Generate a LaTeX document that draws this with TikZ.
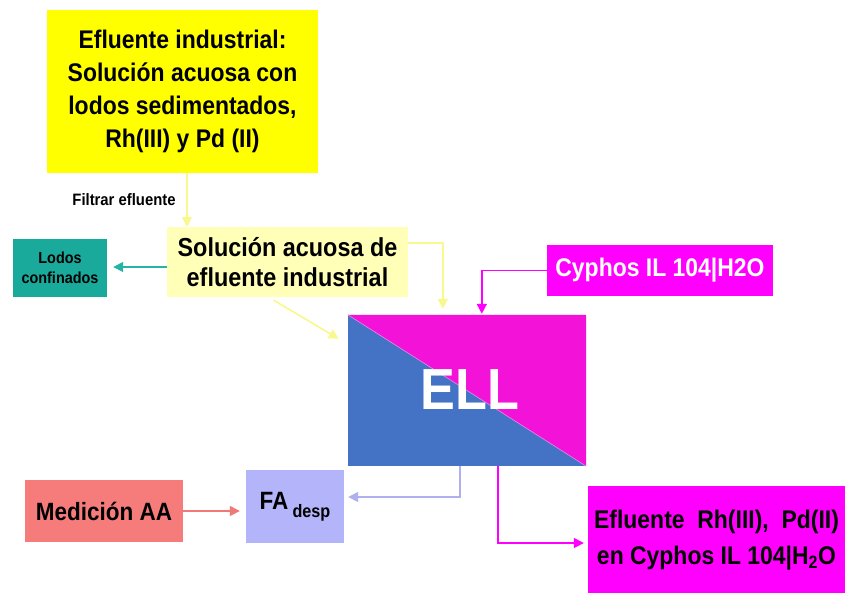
\documentclass[tikz,border=0pt]{standalone}
\usepackage{fontspec}
\setmainfont{Liberation Sans}[FakeStretch=0.9]
\usetikzlibrary{arrows.meta}
\definecolor{cyel}{RGB}{255,255,0}
\definecolor{cpale}{RGB}{255,255,184}
\definecolor{cline}{RGB}{248,248,140}
\definecolor{cteal}{RGB}{26,170,156}
\definecolor{ctealA}{RGB}{40,180,165}
\definecolor{cmag}{RGB}{255,0,255}
\definecolor{cpink}{RGB}{242,18,216}
\definecolor{cblue}{RGB}{68,114,196}
\definecolor{clav}{RGB}{180,180,250}
\definecolor{clavA}{RGB}{176,176,240}
\definecolor{csal}{RGB}{246,124,124}
\definecolor{csalA}{RGB}{240,120,120}
\tikzset{
  box/.style={inner sep=0pt, align=center, font=\bfseries},
  conn/.style={line width=1.6pt, -{Triangle[width=10pt,length=10pt]}},
}
\begin{document}
\begin{tikzpicture}[x=1pt,y=-1pt]
\useasboundingbox (0,0) rectangle (845,592);
% boxes
\node[box, fill=cyel, minimum width=271pt, minimum height=163pt,
  font=\bfseries\fontsize{25.5}{33}\selectfont] (top) at (182.5,91.5)
  {Efluente industrial:\\Solución acuosa con\\lodos sedimentados,\\Rh(III) y Pd (II)};
\node[box, font=\bfseries\fontsize{16.5}{18}\selectfont] (filt) at (124,200) {Filtrar efluente};
\node[box, fill=cpale, minimum width=241pt, minimum height=70pt,
  font=\bfseries\fontsize{26}{30}\selectfont] (sol) at (287.5,262)
  {Solución acuosa de\\efluente industrial};
\node[box, fill=cteal, minimum width=94pt, minimum height=58pt,
  font=\bfseries\fontsize{16}{20}\selectfont] (lod) at (60,268)
  {Lodos\\confinados};
\node[box, fill=cmag, text=white, minimum width=226pt, minimum height=51pt,
  font=\bfseries\fontsize{25.5}{30}\selectfont] (cyp) at (660,270.5)
  {Cyphos IL 104|H2O};
% ELL box
\node[box, minimum width=238pt, minimum height=151pt] (ell) at (467,390.5) {};
\fill[cblue] (ell.north west) rectangle (ell.south east);
\fill[cpink] (ell.north west) -- (ell.north east) -- (ell.south east) -- cycle;
\draw[line width=0.6pt, color={rgb,255:red,230;green,140;blue,230}] (ell.north west) -- (ell.south east);
\node[box, text=white, font=\bfseries\fontsize{58}{60}\selectfont] (elltxt) at (470,390) {ELL};
% bottom boxes
\node[box, fill=csal, minimum width=158pt, minimum height=62pt,
  font=\bfseries\fontsize{25}{30}\selectfont] (med) at (104,511) {Medición AA};
\node[box, fill=clav, minimum width=98pt, minimum height=73pt,
  font=\bfseries\fontsize{25}{30}\selectfont] (fa) at (295,506.5)
  {FA\,\raisebox{-8pt}{\fontsize{18}{20}\selectfont desp}};
\node[box, fill=cmag, minimum width=257pt, minimum height=109pt,
  font=\bfseries\fontsize{25.5}{36}\selectfont] (res) at (716.5,540)
  {Efluente\ \ Rh(III),\ \ Pd(II)\\en Cyphos IL 104|H\textsubscript{2}O};
% connectors
\draw[conn, cline] ([xshift=4.5pt]top.south) -- ([xshift=4.5pt]top.south |- sol.north);
\draw[conn, ctealA] ([yshift=-5pt]sol.west) -- ([xshift=6pt,yshift=-5pt]sol.west -| lod.east);
\draw[conn, cline] ([yshift=19pt]sol.east) -| ([xshift=95pt,yshift=6pt]ell.north west);
\draw[conn, cline] ([xshift=-14pt,yshift=-3pt]sol.south) -- ([xshift=-9pt,yshift=-24pt]ell.north west);
\draw[conn, cmag] (cyp.west) -| ([xshift=134pt,yshift=1pt]ell.north west);
\draw[conn, clavA] ([xshift=112pt]ell.south west) |- ([xshift=4pt,yshift=9.5pt]fa.east);
\draw[conn, cmag] ([xshift=150pt]ell.south west) |- ([xshift=-4pt,yshift=-3pt]res.west);
\draw[conn, csalA] (med.east) -- ([xshift=-6pt]med.east -| fa.west);
\end{tikzpicture}
\end{document}
